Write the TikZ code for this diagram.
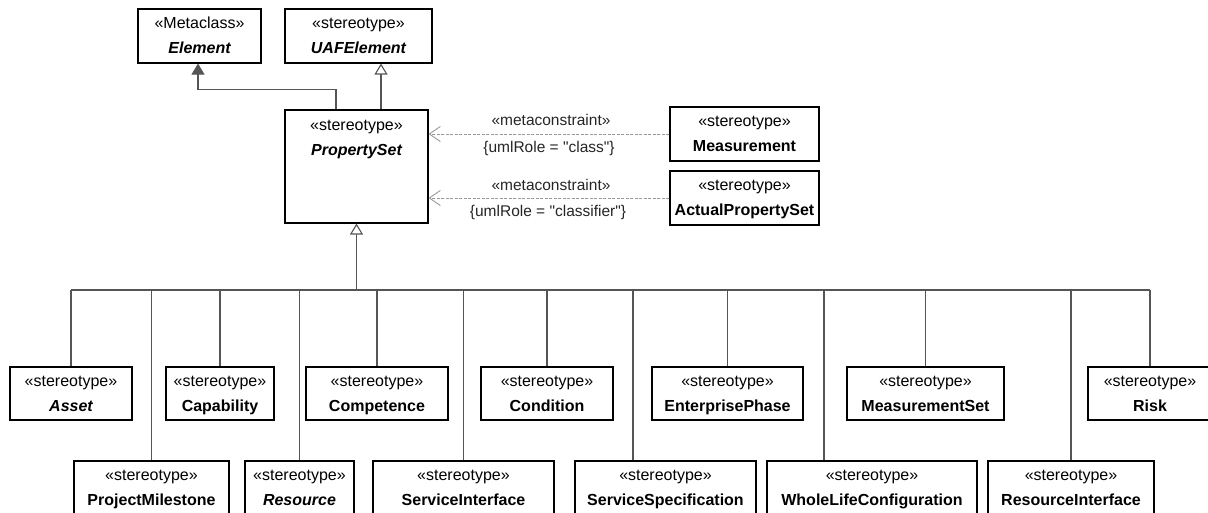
\documentclass[tikz,border=0pt]{standalone}
\usepackage{fontspec}
\setmainfont{Liberation Sans}[Ligatures=TeXOff]
\usetikzlibrary{arrows.meta}
\definecolor{connc}{HTML}{555555}
\definecolor{depc}{HTML}{999999}
\tikzset{
  umlbox/.style={draw=black, line width=1.1pt, fill=white, inner sep=0pt, align=center,
    font=\fontsize{16}{25}\selectfont},
  conn/.style={draw=connc, line width=1.1pt},
  gen/.style={conn, -{Triangle[open, length=11pt, width=13pt, fill=white]}},
  genfill/.style={conn, -{Triangle[length=11pt, width=13pt, fill=connc]}},
  dep/.style={draw=depc, line width=0.9pt, dash pattern=on 3pt off 1.5pt,
    -{Straight Barb[length=11pt, width=15pt, line width=0.9pt]}},
  lbl/.style={inner sep=0pt, font=\fontsize{15.5}{18}\selectfont, text=black!85},
}
\newcommand{\nm}[1]{{\fontsize{16}{25}\selectfont\bfseries #1}}
\newcommand{\nmi}[1]{{\fontsize{16}{25}\selectfont\bfseries\itshape #1}}
\begin{document}
\begin{tikzpicture}[x=1pt, y=-1pt]
\useasboundingbox (0,0) rectangle (1208,512);
\clip (0,0) rectangle (1208,512);
\fill[white] (0,0) rectangle (1208,512);

% top
\node[umlbox, minimum width=123pt, minimum height=54pt] (elem) at (199.5,36)
  {\strut«Metaclass»\\\strut\nmi{Element}};
\node[umlbox, minimum width=147pt, minimum height=54pt] (uaf) at (358.5,36)
  {\strut«stereotype»\\\strut\nmi{UAFElement}};
\node[umlbox, minimum width=143pt, minimum height=113pt] (ps) at (356.5,166.5) {};
\node[inner sep=0pt, align=center, font=\fontsize{16}{25}\selectfont, anchor=north] (pstxt)
  at ([yshift=-3.3pt]ps.north) {\strut«stereotype»\\\strut\nmi{PropertySet}};

\node[umlbox, minimum width=149pt, minimum height=54pt] (meas) at (744.5,134)
  {\strut«stereotype»\\\strut\nm{Measurement}};
\node[umlbox, minimum width=149pt, minimum height=54pt] (aps) at (744.5,198)
  {\strut«stereotype»\\\strut\nm{ActualPropertySet}};

% row 1
\node[umlbox, minimum width=122pt, minimum height=53pt] (asset) at (71,393.5)
  {\strut«stereotype»\\\strut\nmi{Asset}};
\node[umlbox, minimum width=108pt, minimum height=53pt] (cap) at (220,393.5)
  {\strut«stereotype»\\\strut\nm{Capability}};
\node[umlbox, minimum width=142pt, minimum height=53pt] (comp) at (377,393.5)
  {\strut«stereotype»\\\strut\nm{Competence}};
\node[umlbox, minimum width=132pt, minimum height=53pt] (cond) at (547,393.5)
  {\strut«stereotype»\\\strut\nm{Condition}};
\node[umlbox, minimum width=151pt, minimum height=53pt] (ephase) at (727.5,393.5)
  {\strut«stereotype»\\\strut\nm{EnterprisePhase}};
\node[umlbox, minimum width=157pt, minimum height=53pt] (mset) at (925.5,393.5)
  {\strut«stereotype»\\\strut\nm{MeasurementSet}};
\node[umlbox, minimum width=124pt, minimum height=53pt] (risk) at (1150,393.5)
  {\strut«stereotype»\\\strut\nm{Risk}};

% row 2
\node[umlbox, minimum width=155pt, minimum height=53pt] (pm) at (151.5,487.5)
  {\strut«stereotype»\\\strut\nm{ProjectMilestone}};
\node[umlbox, minimum width=109pt, minimum height=53pt] (res) at (299.5,487.5)
  {\strut«stereotype»\\\strut\nmi{Resource}};
\node[umlbox, minimum width=181pt, minimum height=53pt] (si) at (463.5,487.5)
  {\strut«stereotype»\\\strut\nm{ServiceInterface}};
\node[umlbox, minimum width=181pt, minimum height=53pt] (ss) at (665.5,487.5)
  {\strut«stereotype»\\\strut\nm{ServiceSpecification}};
\node[umlbox, minimum width=210pt, minimum height=53pt] (wlc) at (872,487.5)
  {\strut«stereotype»\\\strut\nm{WholeLifeConfiguration}};
\node[umlbox, minimum width=166pt, minimum height=53pt] (ri) at (1071,487.5)
  {\strut«stereotype»\\\strut\nm{ResourceInterface}};

% generalizations to top
\draw[genfill] ([xshift=-20.5pt]ps.north) -- ++(0,-20) -| ([xshift=-1.5pt]elem.south);
\draw[gen] ([xshift=24.5pt]ps.north) -- ([xshift=24.5pt]ps.north |- uaf.south);

% dependencies
\draw[dep] (meas.west) -- (meas.west -| ps.east);
\draw[dep] (aps.west) -- (aps.west -| ps.east);
\node[lbl] (mc1) at (551,120) {«metaconstraint»};
\node[lbl] (ur1) at (549,148.5) {\{umlRole = "class"\}};
\node[lbl] (mc2) at (551,185) {«metaconstraint»};
\node[lbl] (ur2) at (548,212.5) {\{umlRole = "classifier"\}};

% bus
\coordinate (busL) at (71,290);
\coordinate (busR) at (1150,290);
\coordinate (busP) at (ps.south |- busL);
\draw[conn] (busL) -- (busR);
\draw[gen] (busP) -- (ps.south);
\foreach \n in {asset,cap,comp,cond,ephase,mset,risk,pm,res,si,ri}
  \draw[conn] (\n.north) -- (\n.north |- busL);
\draw[conn] ([xshift=-32.5pt]ss.north) -- ([xshift=-32.5pt]ss.north |- busL);
\draw[conn] ([xshift=-48pt]wlc.north) -- ([xshift=-48pt]wlc.north |- busL);
\end{tikzpicture}
\end{document}
